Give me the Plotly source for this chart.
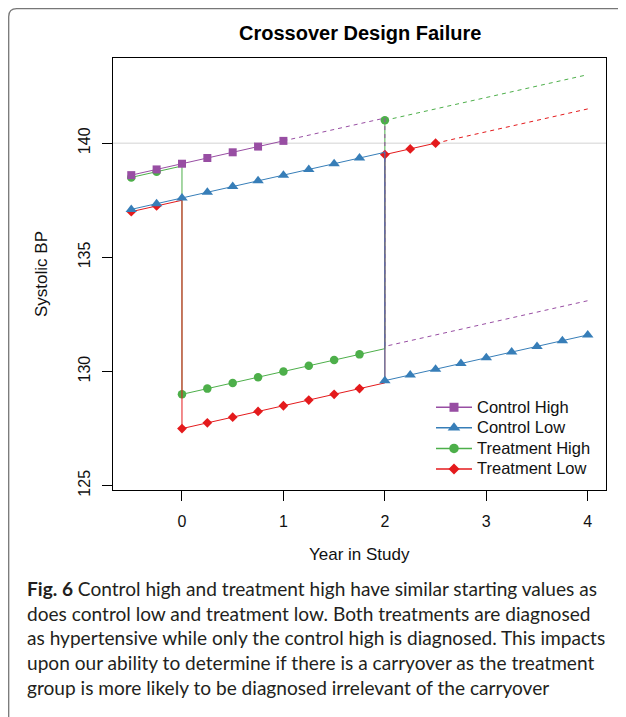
import plotly.graph_objects as go

# ---------------- data ----------------
series_names = ["Control High", "Control Low", "Treatment High", "Treatment Low"]
series_colors = ["#984EA3", "#377EB8", "#4DAF4A", "#E41A1C"]
series_symbols = ["square", "triangle-up", "circle", "diamond"]

ch_x = [-0.5, -0.25, 0, 0.25, 0.5, 0.75, 1]
ch_y = [138.6, 138.85, 139.1, 139.35, 139.6, 139.85, 140.1]
ch_marked = [1, 1, 1, 1, 1, 1, 1]
ch_proj_x = [1, 2, 2, 4]
ch_proj_y = [140.1, 141.1, 131.1, 133.1]

cl_x = [-0.5, -0.25, 0, 0.25, 0.5, 0.75, 1, 1.25, 1.5, 1.75, 2, 2,
        2.25, 2.5, 2.75, 3, 3.25, 3.5, 3.75, 4]
cl_y = [137.1, 137.35, 137.6, 137.85, 138.1, 138.35, 138.6, 138.85, 139.1, 139.35, 139.6, 129.6,
        129.85, 130.1, 130.35, 130.6, 130.85, 131.1, 131.35, 131.6]
cl_marked = [1, 1, 1, 1, 1, 1, 1, 1, 1, 1, 0, 1, 1, 1, 1, 1, 1, 1, 1, 1]

th_x = [-0.5, -0.25, 0, 0, 0.25, 0.5, 0.75, 1, 1.25, 1.5, 1.75, 2, 2]
th_y = [138.5, 138.75, 139.0, 129.0, 129.25, 129.5, 129.75, 130.0, 130.25, 130.5, 130.75, 131.0, 141.0]
th_marked = [1, 1, 0, 1, 1, 1, 1, 1, 1, 1, 1, 0, 1]
th_proj_x = [2, 4]
th_proj_y = [141.0, 143.0]

tl_x = [-0.5, -0.25, 0, 0, 0.25, 0.5, 0.75, 1, 1.25, 1.5, 1.75, 2, 2, 2.25, 2.5]
tl_y = [137.0, 137.25, 137.5, 127.5, 127.75, 128.0, 128.25, 128.5, 128.75, 129.0, 129.25, 129.5,
        139.5, 139.75, 140.0]
tl_marked = [1, 1, 0, 1, 1, 1, 1, 1, 1, 1, 1, 0, 1, 1, 1]
tl_proj_x = [2.5, 4]
tl_proj_y = [140.0, 141.5]

threshold = 140
x_ticks = [0, 1, 2, 3, 4]
y_ticks = [125, 130, 135, 140]

title_text = "Crossover Design Failure"
x_title = "Year in Study"
y_title = "Systolic BP"
caption_lines = [
    "<b>Fig. 6</b> Control high and treatment high have similar starting values as",
    "does control low and treatment low. Both treatments are diagnosed",
    "as hypertensive while only the control high is diagnosed. This impacts",
    "upon our ability to determine if there is a carryover as the treatment",
    "group is more likely to be diagnosed irrelevant of the carryover",
]

# ---------------- layout geometry ----------------
OFF = 8                     # page body margin
W, H = 626 - OFF, 717 - OFF
L, T = 113 - OFF, 58 - OFF
PR, PB = 606 - OFF, 490 - OFF
R, B = W - PR, H - PB
PW, PH = PR - L, PB - T


def px(sx):
    return (sx - OFF - L) / PW


def py(sy):
    return (PB - (sy - OFF)) / PH


def fx(x):
    return (x - L) / PW


def fy(y):
    return (PB - y) / PH


marker_sizes = {"square": 8, "triangle-up": 10, "circle": 8.5, "diamond": 7.5}

fig = go.Figure()

draw = [
    (2, th_x, th_y, th_marked, th_proj_x, th_proj_y),
    (3, tl_x, tl_y, tl_marked, tl_proj_x, tl_proj_y),
    (0, ch_x, ch_y, ch_marked, ch_proj_x, ch_proj_y),
    (1, cl_x, cl_y, cl_marked, None, None),
]

for idx, xs, ys, mk, pxs, pys in draw:
    col = series_colors[idx]
    sym = series_symbols[idx]
    if pxs is not None:
        fig.add_trace(go.Scatter(x=pxs, y=pys, mode="lines", showlegend=False,
                                 line=dict(color=col, width=1, dash="4px,4px"),
                                 hoverinfo="skip"))
    fig.add_trace(go.Scatter(x=xs, y=ys, mode="lines", showlegend=False,
                             line=dict(color=col, width=1), hoverinfo="skip"))
    mx = [x for x, m in zip(xs, mk) if m]
    my = [y for y, m in zip(ys, mk) if m]
    fig.add_trace(go.Scatter(x=mx, y=my, mode="markers", showlegend=False,
                             marker=dict(color=col, symbol=sym, size=marker_sizes[sym],
                                         line=dict(width=0))))

legend_text_size = 16.5
for i, name in enumerate(series_names):
    sym = series_symbols[i]
    fig.add_trace(go.Scatter(
        x=[None], y=[None], mode="lines+markers",
        name=f"<span style='font-size:{legend_text_size}px'>{name}</span>",
        line=dict(color=series_colors[i], width=1.5),
        marker=dict(color=series_colors[i], symbol=sym,
                    size=marker_sizes[sym] + 1, line=dict(width=0))))

fig.add_shape(type="line", xref="paper", yref="y", x0=0, x1=1, y0=threshold, y1=threshold,
              line=dict(color="#D3D3D3", width=1), layer="below")

# outer frame with rounded top-left corner
r = 8
x0f, y0f = 0.7, 0.7
fig.add_shape(type="path", xref="paper", yref="paper",
              path=(f"M {fx(x0f)},{fy(H + 5)} L {fx(x0f)},{fy(y0f + r)} "
                    f"Q {fx(x0f)},{fy(y0f)} {fx(x0f + r)},{fy(y0f)} L {fx(W + 5)},{fy(y0f)}"),
              line=dict(color="#777777", width=1.3))

axis_font = dict(family="Liberation Sans, Arial, sans-serif", size=16, color="#111111")

fig.update_layout(
    width=W, height=H,
    margin=dict(l=L, r=R, t=T, b=B),
    paper_bgcolor="white", plot_bgcolor="white",
    showlegend=True,
    legend=dict(x=px(431), y=py(438.5), xanchor="left", yanchor="middle",
                bgcolor="rgba(0,0,0,0)", borderwidth=0, tracegroupgap=0, itemwidth=36,
                font=dict(family="Liberation Sans, Arial, sans-serif", size=13.5, color="#111111")),
    xaxis=dict(range=[-0.68, 4.18], tickvals=x_ticks, ticks="outside", ticklen=10,
               tickcolor="black", showgrid=False, zeroline=False, showline=True,
               linecolor="black", linewidth=1, mirror=True, tickfont=axis_font,
               ticklabelstandoff=7),
    yaxis=dict(range=[124.81, 143.73], tickvals=y_ticks, ticks="outside", ticklen=10,
               tickcolor="black", showgrid=False, zeroline=False, showline=True,
               linecolor="black", linewidth=1, mirror=True, tickfont=axis_font,
               tickangle=-90, ticklabelstandoff=6),
)

annotations = [
    dict(text=f"<b>{title_text}</b>", x=px(359.5), y=py(33), xref="paper", yref="paper",
         showarrow=False, xanchor="center", yanchor="middle",
         font=dict(family="Liberation Sans, Arial, sans-serif", size=20, color="black")),
    dict(text=x_title, x=px(359.5), y=py(554), xref="paper", yref="paper",
         showarrow=False, xanchor="center", yanchor="middle",
         font=dict(family="Liberation Sans, Arial, sans-serif", size=17, color="#111111")),
    dict(text=y_title, x=px(41), y=py(274), xref="paper", yref="paper", textangle=-90,
         showarrow=False, xanchor="center", yanchor="middle",
         font=dict(family="Liberation Sans, Arial, sans-serif", size=17, color="#111111")),
]
cap_y = [588, 613, 637, 662, 687]
for line, yy in zip(caption_lines, cap_y):
    annotations.append(dict(text=line, x=px(25), y=py(yy), xref="paper", yref="paper",
                            showarrow=False, xanchor="left", yanchor="middle",
                            font=dict(family="Lato, Open Sans, sans-serif", size=19.1,
                                      color="#231F20")))
fig.update_layout(annotations=annotations)

fig.write_html("out.html")
